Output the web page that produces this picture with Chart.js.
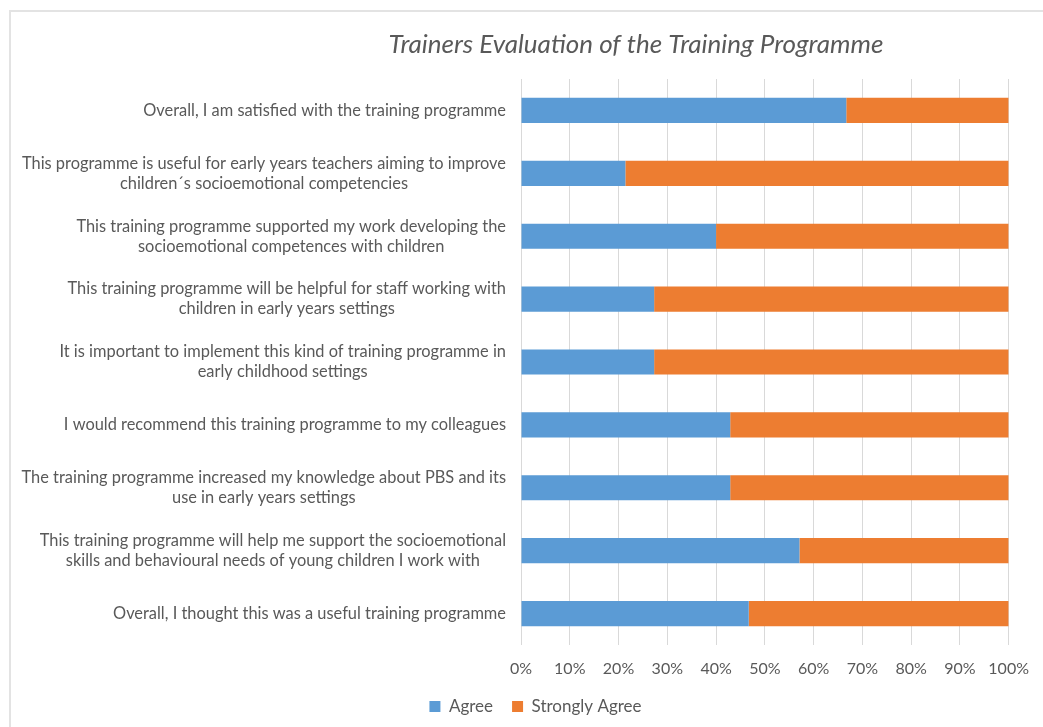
<!DOCTYPE html>
<html>
<head>
<meta charset="utf-8">
<title>Trainers Evaluation of the Training Programme</title>
<script src="https://cdn.jsdelivr.net/npm/chart.js@4.4.1/dist/chart.umd.min.js"></script>
<style>
  html, body { margin: 0; padding: 0; background: #fff; overflow: hidden; }
  #wrap { position: relative; width: 1043px; height: 727px; }
  #frame {
    position: absolute; left: 9px; top: 10px; width: 1100px; height: 800px;
    border-left: 2px solid #e3e3e3; border-top: 2px solid #e3e3e3;
  }
  canvas { position: absolute; left: 0; top: 0; }
</style>
</head>
<body>
<div id="wrap">
  <div id="frame"></div>
  <canvas id="evalChart" width="1043" height="727"></canvas>
</div>
<script>
// Data (persen)
const statements = [
  'Overall, I am satisfied with the training programme',
  ['This programme is useful for early years teachers aiming to improve', 'children\u00b4s socioemotional competencies'],
  ['This training programme supported my work developing the', 'socioemotional competences with children'],
  ['This training programme will be helpful for staff working with', 'children in early years settings'],
  ['It is important to implement this kind of training programme in', 'early childhood settings'],
  'I would recommend this training programme to my colleagues',
  ['The training programme increased my knowledge about PBS and its', 'use in early years settings'],
  ['This training programme will help me support the socioemotional', 'skills and behavioural needs of young children I work with'],
  'Overall, I thought this was a useful training programme'
];
const agree = [66.7, 21.4, 40.0, 27.3, 27.3, 42.9, 42.9, 57.1, 46.7];
const stronglyAgree = [33.3, 78.6, 60.0, 72.7, 72.7, 57.1, 57.1, 42.9, 53.3];
const seriesNames = ['Agree', 'Strongly Agree'];
const chartTitle = 'Trainers Evaluation of the Training Programme';

const textColor = '#595959';
const fontFam = 'Lato, "Open Sans", sans-serif';

// judul ditulis manual supaya posisinya mirip Excel
const titlePlugin = {
  id: 'excelTitle',
  afterDraw(chart) {
    const ctx = chart.ctx;
    ctx.save();
    ctx.font = 'italic 26px ' + fontFam;
    ctx.fillStyle = textColor;
    ctx.textAlign = 'center';
    ctx.textBaseline = 'middle';
    ctx.fillText(chartTitle, 636, 45);
    ctx.restore();
  }
};

// label kategori: blok rata kanan, baris di tengah (gaya Excel)
const catLabelPlugin = {
  id: 'catLabels',
  afterDraw(chart) {
    const ctx = chart.ctx;
    const yScale = chart.scales.y;
    const rightEdge = chart.chartArea.left - 15;
    const lineH = 20;
    ctx.save();
    ctx.font = '16.4px ' + fontFam;
    ctx.fillStyle = textColor;
    ctx.textAlign = 'center';
    ctx.textBaseline = 'middle';
    statements.forEach((lbl, i) => {
      const lines = Array.isArray(lbl) ? lbl : [lbl];
      const w = Math.max(...lines.map(l => ctx.measureText(l).width));
      const cx = rightEdge - w / 2;
      const yc = yScale.getPixelForTick(i);
      lines.forEach((l, j) => {
        ctx.fillText(l, cx, yc + (j - (lines.length - 1) / 2) * lineH);
      });
    });
    ctx.restore();
  }
};

const ctx = document.getElementById('evalChart').getContext('2d');
const evalChart = new Chart(ctx, {
  type: 'bar',
  data: {
    labels: statements,
    datasets: [
      { label: seriesNames[0], data: agree, backgroundColor: '#5b9bd5' },
      { label: seriesNames[1], data: stronglyAgree, backgroundColor: '#ed7d31' }
    ]
  },
  options: {
    indexAxis: 'y',
    responsive: false,
    animation: false,
    layout: { padding: { left: 62, right: 34, top: 79, bottom: 2 } },
    datasets: { bar: { barPercentage: 0.4, categoryPercentage: 1.0 } },
    scales: {
      x: {
        stacked: true,
        min: 0,
        max: 100,
        ticks: {
          stepSize: 10,
          padding: 14,
          color: textColor,
          font: { family: fontFam, size: 16 },
          callback: v => v + '%'
        },
        grid: { color: '#d9d9d9', lineWidth: 1, drawTicks: false },
        border: { display: false },
        afterFit: s => { s.height = 34; }
      },
      y: {
        stacked: true,
        ticks: { display: false },
        grid: { display: false },
        border: { display: false },
        afterFit: s => { s.width = 459; }
      }
    },
    plugins: {
      title: { display: false },
      tooltip: { enabled: false },
      legend: {
        position: 'bottom',
        labels: {
          boxWidth: 11,
          boxHeight: 11,
          padding: 19,
          color: textColor,
          font: { family: fontFam, size: 17 }
        }
      }
    }
  },
  plugins: [titlePlugin, catLabelPlugin]
});
</script>
</body>
</html>
